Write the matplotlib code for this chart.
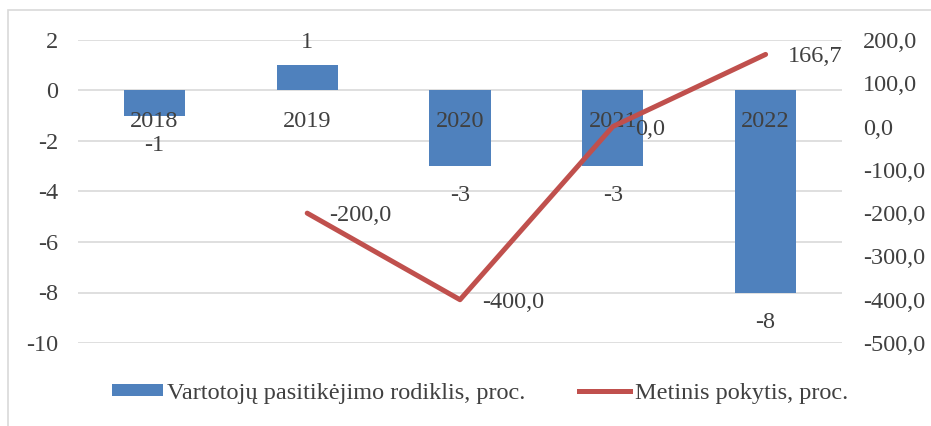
import matplotlib
matplotlib.use("Agg")
import matplotlib.pyplot as plt
from matplotlib.patches import Rectangle, Patch
from matplotlib.lines import Line2D

plt.rcParams['font.family'] = ['Liberation Serif', 'DejaVu Serif']
plt.rcParams['axes.unicode_minus'] = False

years = ["2018", "2019", "2020", "2021", "2022"]
index_vals = [-1, 1, -3, -3, -8]
change_years = ["2019", "2020", "2021", "2022"]
change_vals = [-200.0, -400.0, 0.0, 166.7]

bar_color = "#4F81BD"
line_color = "#C0504D"
text_color = "#404040"
grid_color = "#D9D9D9"
fs = 17.5

W, H = 931, 426
fig = plt.figure(figsize=(W/100, H/100), dpi=100)
ax = fig.add_axes([78/W, 1-343/H, (842-78)/W, (343-40)/H])
ax2 = ax.twinx()

x = list(range(len(years)))
ax.bar(x, index_vals, width=0.4, color=bar_color, zorder=2)
ax.set_xlim(-0.5, len(years)-0.5)
ax.set_ylim(-10, 2)
ax.set_yticks(range(-10, 3, 2))
ax.grid(axis='y', color=grid_color, linewidth=1.2, zorder=0)
ax.set_axisbelow(True)
for s in ax.spines.values():
    s.set_visible(False)
for s in ax2.spines.values():
    s.set_visible(False)
ax.tick_params(axis='y', length=0, labelsize=fs, labelcolor=text_color, pad=14)
ax.set_xticks([])

# category labels at zero line
for i, y in enumerate(years):
    ax.annotate(y, (i, 0), xytext=(0, -37), textcoords='offset pixels',
                ha='center', va='baseline', fontsize=fs, color=text_color, zorder=3)

# bar value labels
for i, v in enumerate(index_vals):
    off = 17 if v >= 0 else -35
    ax.annotate(f"{v}", (i, v), xytext=(0, off), textcoords='offset pixels',
                ha='center', va='baseline', fontsize=fs, color=text_color, zorder=3)

cx = [years.index(y) for y in change_years]
ax2.plot(cx, change_vals, color=line_color, linewidth=3.6, solid_capstyle='round',
         solid_joinstyle='round', zorder=4)
ax2.set_ylim(-500, 200)
ax2.set_yticks(range(-500, 201, 100))
ax2.set_yticklabels([f"{t:.1f}".replace('.', ',') for t in range(-500, 201, 100)])
ax2.tick_params(axis='y', length=0, labelsize=fs, labelcolor=text_color, pad=15)
for xi, v in zip(cx, change_vals):
    ax2.annotate(f"{v:.1f}".replace('.', ','), (xi, v), xytext=(22, -8),
                 textcoords='offset pixels', ha='left', va='baseline',
                 fontsize=fs, color=text_color, zorder=5)

# legend
handles = [Patch(facecolor=bar_color, edgecolor='none'),
           Line2D([0], [0], color=line_color, linewidth=3.6)]
labels = ["Vartotojų pasitikėjimo rodiklis, proc.", "Metinis pokytis, proc."]
fig.legend(handles, labels, loc='center', bbox_to_anchor=(480/W, 1-393/H), ncol=2,
           frameon=False, fontsize=fs, labelcolor=text_color, handlelength=2.1,
           handletextpad=0.2, columnspacing=2.2, handleheight=0.4)

# outer frame
fig.patches.append(Rectangle((8/W, -0.05), 1.0, 1-10/H+0.05, transform=fig.transFigure,
                             fill=False, edgecolor=grid_color, linewidth=1.2))

fig.savefig("out.png", dpi=100)
